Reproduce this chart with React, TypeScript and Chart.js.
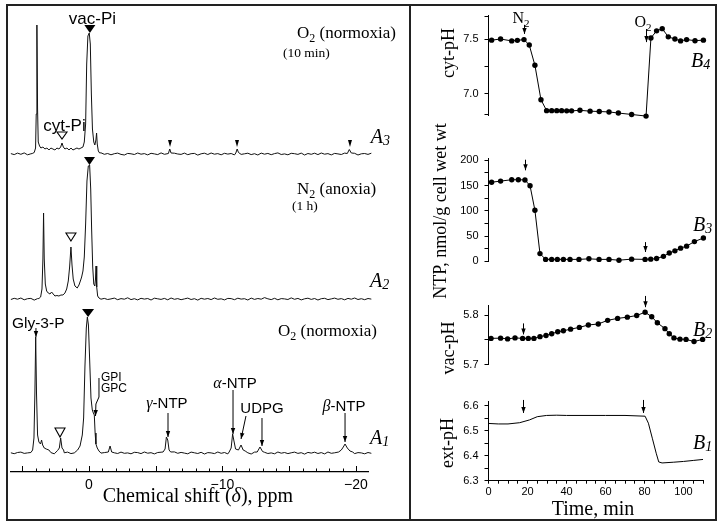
import React, { useEffect, useRef } from "react";
import { Chart, registerables } from "chart.js";
Chart.register(...registerables);

const SANS = '"Liberation Sans", Arial, Helvetica, sans-serif';
const SERIF = '"Liberation Serif", "Times New Roman", Times, serif';

// ---------------- Panel A: 31P NMR spectra ----------------
const NOISE_START = 5.85; // ppm of first baseline sample
const NOISE_STEP = 0.25; // ppm between baseline samples
const NOISE_A3 = [0.4,-0.6,0.9,-0.3,1.1,-0.8,0.2,0.7,-1.0,0.5,
 -0.2,0.8,-0.7,0.3,1.0,-0.5,0.1,-0.9,0.6,0.2,
 -0.4,0.9,-1.1,0.4,0.0,0.7,-0.6,1.2,-0.3,0.5,
 -0.8,0.3,0.9,-0.4,-1.0,0.6,0.2,-0.5,1.0,-0.2,
 0.4,-0.9,0.7,0.1,-0.6,1.1,-0.3,0.5,-1.0,0.8,
 0.0,-0.4,0.9,-0.7,0.3,0.6,-1.1,0.2,0.8,-0.5,
 1.0,-0.2,0.4,-0.8,0.7,-0.1,0.5,-0.9,1.2,-0.4,
 0.2,0.8,-0.6,0.3,-1.0,0.9,-0.2,0.6,-0.7,0.4,
 1.1,-0.5,0.1,-0.8,0.7,0.3,-0.4,0.9,-1.0,0.5,
 -0.3,0.8,-0.6,1.0,-0.2,0.4,-0.9,0.6,0.1,-0.5,
 0.9,-0.7,0.3,0.7,-1.0,0.2,0.5,-0.4,0.8];
const NOISE_A2 = [-0.5,0.7,-0.2,1.0,-0.8,0.3,0.6,-1.1,0.4,-0.1,
 0.9,-0.6,0.2,-0.9,0.8,0.1,-0.4,1.1,-0.7,0.3,
 0.5,-1.0,0.7,-0.3,0.2,-0.8,1.0,-0.2,0.6,-0.5,
 0.1,0.9,-0.7,0.4,-0.2,1.2,-0.6,0.3,-0.9,0.7,
 -0.1,0.5,-1.0,0.8,0.2,-0.4,0.6,-0.8,1.0,-0.3,
 0.4,-0.7,0.1,0.9,-0.5,0.3,-1.1,0.7,-0.2,0.5,
 -0.6,1.0,-0.3,0.2,-0.9,0.6,0.4,-0.7,0.8,-0.1,
 0.3,-1.0,0.9,-0.4,0.5,-0.2,1.4,0.2,-0.6,0.7,
 -0.8,0.4,0.1,-0.5,1.1,-0.3,0.6,-0.9,0.2,0.8,
 -0.4,0.5,-1.0,0.3,0.7,-0.6,0.1,0.9,-0.3,0.4,
 -0.8,0.6,-0.2,1.0,-0.5,0.3,-0.7,0.5,-0.1];
const NOISE_A1 = [0.2,-0.7,0.5,0.9,-0.4,0.1,-1.0,0.6,0.3,-0.5,
 1.0,-0.2,0.4,-0.8,0.7,-0.3,0.2,0.9,-0.6,0.1,
 -0.9,0.5,0.8,-0.4,0.3,-0.7,1.1,-0.1,0.4,-1.0,
 0.6,0.2,-0.5,0.9,-0.3,0.1,-0.8,0.7,0.4,-0.6,
 1.0,-0.2,0.3,-0.9,0.5,0.8,-0.4,0.2,-0.7,1.1,
 -0.3,0.6,-0.1,-0.8,0.9,0.2,-0.5,0.7,-1.0,0.4,
 0.1,-0.6,1.0,-0.3,0.5,-0.9,0.3,0.8,-0.2,-0.7,
 0.6,0.2,-1.0,0.9,-0.4,0.3,0.7,-0.5,0.1,-0.8,
 1.0,-0.2,0.5,-0.6,0.2,0.9,-0.4,0.3,-1.1,0.6,
 -0.1,0.8,-0.5,0.4,-0.9,1.0,-0.3,0.2,0.6,-0.7,
 0.3,-0.2,0.9,-0.6,0.4,0.1,-0.8,0.5,-0.3];

// peak segments: [ppm, intensity]
const PEAKS_A3 = [
 [[4.25,0.5],[4.1,1.5],[4.0,6],[3.95,40],[3.9,129],[3.85,45],[3.8,12],[3.7,8],[3.6,6],[3.45,7],[3.3,5],[3.15,6],[3.0,4],[2.85,6],[2.7,5],[2.55,4],[2.4,6],[2.25,5],[2.12,7],[2.02,11],[1.92,7],[1.8,5],[1.65,6],[1.5,4],[1.35,6],[1.2,4],[1.05,5],[0.9,6],[0.75,5],[0.6,6],[0.45,7],[0.35,12],[0.25,30],[0.17,90],[0.08,118],[-0.02,121],[-0.1,110],[-0.18,60],[-0.26,25],[-0.36,12],[-0.44,9],[-0.52,14],[-0.57,21],[-0.62,10],[-0.7,3],[-0.8,1]],
 [[-5.95,0.5],[-6.05,5],[-6.15,1]],
 [[-11.0,1],[-11.1,5],[-11.2,1.5]],
 [[-19.35,0.5],[-19.5,4.5],[-19.65,1]],
];
const PEAKS_A2 = [
 [[3.75,0.5],[3.62,2],[3.52,10],[3.45,40],[3.4,86],[3.35,40],[3.27,15],[3.17,8],[3.05,6],[2.92,5],[2.8,7],[2.68,5],[2.55,3],[2.4,3.5],[2.25,3],[2.1,4],[1.95,4],[1.8,6],[1.67,10],[1.55,18],[1.45,32],[1.35,52],[1.27,34],[1.18,20],[1.05,13],[0.88,11],[0.75,14],[0.62,19],[0.55,22],[0.45,28],[0.35,42],[0.25,75],[0.15,118],[0.05,133],[-0.05,134],[-0.13,110],[-0.2,70],[-0.28,32],[-0.36,15],[-0.44,13],[-0.49,20],[-0.53,33],[-0.58,12],[-0.65,3],[-0.75,1]],
];
const PEAKS_A1 = [
 [[4.35,0.5],[4.22,3],[4.12,15],[4.05,60],[3.99,116],[3.93,60],[3.85,18],[3.75,11],[3.63,9],[3.55,13],[3.47,8],[3.35,5],[3.2,4],[3.0,3]],
 [[2.35,2.5],[2.22,5],[2.12,15],[2.02,5],[1.9,3]],
 [[0.85,3],[0.67,7],[0.5,18],[0.4,35],[0.3,87],[0.2,125],[0.12,136],[0.04,128],[-0.06,90],[-0.15,55],[-0.25,43],[-0.33,40],[-0.4,38],[-0.46,20],[-0.52,9],[-0.62,5],[-0.75,2]],
 [[-1.45,1],[-1.58,7],[-1.7,1]],
 [[-5.55,1],[-5.7,4],[-5.8,16],[-5.9,13],[-6.0,3],[-6.12,1]],
 [[-10.5,1],[-10.65,5],[-10.76,19],[-10.86,12],[-10.98,4],[-11.2,3],[-11.39,8],[-11.55,3],[-11.7,2]],
 [[-12.6,1],[-12.81,6],[-13.0,1.5]],
 [[-18.7,1],[-18.9,3],[-19.05,6],[-19.18,9],[-19.35,5],[-19.55,2],[-19.75,1]],
];
const TRACE_OFFSET = { A1: 19, A2: 173, A3: 318 };
const A_TICK_LABELS = [-20, -10, 0];
const A_MINOR_TICKS = [5,4,3,2,1,0,-1,-2,-3,-4,-5,-6,-7,-8,-9,-10,-11,-12,-13,-14,-15,-16,-17,-18,-19,-20];

// ---------------- Panel B: time courses ----------------
const B4_TIME = [1.6,6.2,11.9,14.8,18.2,20.9,23.8,26.9,29.8,32.4,35.0,37.5,40.1,42.6,46.9,52.1,56.8,61.8,66.6,73.4,80.8,83.3,86.2,89.1,92.2,95.6,98.5,101.6,105.9,110.2];
const B4_CYT_PH = [7.49,7.50,7.483,7.488,7.495,7.445,7.26,6.945,6.845,6.845,6.845,6.845,6.843,6.843,6.848,6.84,6.837,6.833,6.823,6.81,6.795,7.51,7.575,7.595,7.52,7.50,7.483,7.495,7.485,7.49];
const B3_TIME = [1.6,6.2,11.9,15.3,18.7,21.3,23.8,26.4,29.3,32.4,35.3,38.4,41.8,46.4,51.5,56.7,61.8,66.9,73.4,80.3,83.2,86.2,89.7,92.7,95.6,98.5,101.6,105.6,110.2];
const B3_NTP = [156.5,158.7,161.4,161.4,161,149.5,101,15.2,3.8,3.8,3.8,3.8,3.8,3.8,4.9,3.8,3.8,2.2,4.3,3.8,4.3,5.4,9.8,16.3,20.7,26,30,39,46];
const B2_TIME = [1.3,6.2,9.8,13.6,17.5,20.4,23.3,26.4,29.5,32.4,35.5,38.4,42.1,46.6,51.2,56.3,61.1,66.2,71.2,76.0,80.3,83.7,86.6,90.5,92.7,95.1,98.2,101.3,105.4,109.8];
const B2_VAC_PH = [5.7532,5.7537,5.7522,5.7542,5.7532,5.7532,5.7532,5.7567,5.7591,5.7626,5.7665,5.7685,5.7719,5.7754,5.7803,5.7823,5.7897,5.7936,5.7961,5.7995,5.806,5.797,5.7847,5.7729,5.7626,5.7542,5.7517,5.7512,5.7468,5.7512];
const B1_TIME = [0,5,10,16,21,25,29.8,35,40,50,60,70,80.3,82,84,86,87.3,89,95,100,105,110];
const B1_EXT_PH = [6.529,6.527,6.527,6.532,6.543,6.556,6.561,6.562,6.561,6.561,6.561,6.561,6.558,6.53,6.47,6.41,6.375,6.371,6.374,6.377,6.381,6.385];

const B4_TICKS = [6.81, 7.0, 7.25, 7.5, 7.71];
const B4_LABELS = [7.0, 7.5];
const B3_TICKS = [0, 25, 50, 75, 100, 125, 150, 175, 200];
const B3_LABELS = [0, 50, 100, 150, 200];
const B2_TICKS = [5.7, 5.75, 5.8];
const B2_LABELS = [5.7, 5.8];
const B1_TICKS = [6.3, 6.35, 6.4, 6.45, 6.5, 6.55, 6.6];
const B1_LABELS = [6.3, 6.4, 6.5, 6.6];
const TIME_TICKS = [0,5,10,15,20,25,30,35,40,45,50,55,60,65,70,75,80,85,90,95,100,105,110];
const TIME_LABELS = [0, 20, 40, 60, 80, 100];

// ---------------- drawing helpers ----------------
type Part = { t: string; size: number; fam: string; style?: string; dy?: number };
const fnt = (p: Part) => `${p.style || ""} ${p.size}px ${p.fam}`.trim();
function drawRich(ctx: CanvasRenderingContext2D, x: number, y: number, parts: Part[], align = "left") {
  let w = 0;
  for (const p of parts) { ctx.font = fnt(p); w += ctx.measureText(p.t).width; }
  let cx = align === "center" ? x - w / 2 : align === "right" ? x - w : x;
  const base = y + parts[0].size * 0.35;
  ctx.textAlign = "left";
  ctx.textBaseline = "alphabetic";
  ctx.fillStyle = "#000";
  for (const p of parts) {
    ctx.font = fnt(p);
    ctx.fillText(p.t, cx, base + (p.dy || 0));
    cx += ctx.measureText(p.t).width;
  }
}
function arrow(ctx: CanvasRenderingContext2D, pts: number[][], head = 6, hw = 2.3) {
  ctx.beginPath();
  ctx.moveTo(pts[0][0], pts[0][1]);
  for (let i = 1; i < pts.length; i++) ctx.lineTo(pts[i][0], pts[i][1]);
  ctx.stroke();
  const [x1, y1] = pts[pts.length - 2];
  const [x2, y2] = pts[pts.length - 1];
  const a = Math.atan2(y2 - y1, x2 - x1);
  const bx = x2 - head * Math.cos(a), by = y2 - head * Math.sin(a);
  ctx.beginPath();
  ctx.moveTo(x2, y2);
  ctx.lineTo(bx + hw * Math.sin(a), by - hw * Math.cos(a));
  ctx.lineTo(bx - hw * Math.sin(a), by + hw * Math.cos(a));
  ctx.closePath();
  ctx.fill();
}
function triangle(ctx: CanvasRenderingContext2D, cx: number, top: number, bottom: number, w: number, filled: boolean) {
  ctx.beginPath();
  ctx.moveTo(cx - w / 2, top);
  ctx.lineTo(cx + w / 2, top);
  ctx.lineTo(cx, bottom);
  ctx.closePath();
  if (filled) ctx.fill(); else { ctx.lineWidth = 1.1; ctx.stroke(); }
}
const serif = (t: string, size: number, dy = 0, style = ""): Part => ({ t, size, fam: SERIF, dy, style });
const sans = (t: string, size: number, dy = 0): Part => ({ t, size, fam: SANS, dy });
const panelLabel = (L: string, n: string): Part[] => [serif(L, 20, 0, "italic"), serif(n, 14, 2, "italic")];

// annotations for panel A, in (ppm, intensity) units
const A_TEXTS: { x: number; y: number; align: string; parts: Part[] }[] = [
  { x: -0.26, y: 454, align: "center", parts: [sans("vac-Pi", 17)] },
  { x: 1.84, y: 347, align: "center", parts: [sans("cyt-Pi", 17)] },
  { x: -15.58, y: 440, align: "left", parts: [serif("O", 17), serif("2", 12, 4), serif(" (normoxia)", 17)] },
  { x: -14.53, y: 420, align: "left", parts: [serif("(10 min)", 13.5)] },
  { x: -21.1, y: 336, align: "left", parts: panelLabel("A", "3") },
  { x: -15.58, y: 284, align: "left", parts: [serif("N", 17), serif("2", 12, 4), serif(" (anoxia)", 17)] },
  { x: -15.2, y: 267, align: "left", parts: [serif("(1 h)", 13.5)] },
  { x: -21.05, y: 192, align: "left", parts: panelLabel("A", "2") },
  { x: 5.77, y: 149, align: "left", parts: [sans("Gly-3-P", 15.5)] },
  { x: -0.9, y: 95, align: "left", parts: [sans("GPI", 12)] },
  { x: -0.9, y: 84, align: "left", parts: [sans("GPC", 12)] },
  { x: -14.16, y: 142, align: "left", parts: [serif("O", 17), serif("2", 12, 4), serif(" (normoxia)", 17)] },
  { x: -5.84, y: 70, align: "center", parts: [serif("γ", 16, 0, "italic"), sans("-NTP", 15)] },
  { x: -10.94, y: 90, align: "center", parts: [serif("α", 16, 0, "italic"), sans("-NTP", 15)] },
  { x: -12.96, y: 64, align: "center", parts: [sans("UDPG", 15)] },
  { x: -19.1, y: 67, align: "center", parts: [serif("β", 16, 0, "italic"), sans("-NTP", 15)] },
  { x: -21.05, y: 35, align: "left", parts: panelLabel("A", "1") },
  { x: -8.16, y: -23, align: "center", parts: [serif("Chemical shift (", 20), serif("δ", 20, 0, "italic"), serif("), ppm", 20)] },
];
const A_ARROWS = [
  [[3.97, 144], [3.97, 135]],
  [[-0.75, 94], [-0.75, 75], [-0.52, 68], [-0.49, 56]],
  [[-5.92, 59], [-5.92, 35]],
  [[-10.79, 82], [-10.79, 38]],
  [[-11.76, 56], [-11.39, 33]],
  [[-12.96, 54], [-12.96, 26]],
  [[-19.18, 59], [-19.18, 30]],
];
const A_TRIANGLES = [
  { x: -0.07, top: 447, bottom: 439, w: 11, filled: true },
  { x: 2.02, top: 340, bottom: 333, w: 10, filled: false },
  { x: -6.07, top: 332, bottom: 325, w: 4, filled: true },
  { x: -11.09, top: 332, bottom: 325, w: 4, filled: true },
  { x: -19.55, top: 332, bottom: 325, w: 4, filled: true },
  { x: -0.04, top: 315, bottom: 307, w: 11, filled: true },
  { x: 1.35, top: 239, bottom: 231, w: 10, filled: false },
  { x: 0.07, top: 163, bottom: 155, w: 12, filled: true },
  { x: 2.17, top: 44, bottom: 35, w: 10, filled: false },
];

function buildTrace(noise: number[], peaks: number[][][], offset: number) {
  const pts: { x: number; y: number }[] = [];
  const ranges = peaks.map((s) => [s[s.length - 1][0], s[0][0]]);
  noise.forEach((n, i) => {
    const x = NOISE_START - i * NOISE_STEP;
    if (!ranges.some(([lo, hi]) => x >= lo - 0.05 && x <= hi + 0.05)) pts.push({ x, y: offset + n });
  });
  peaks.forEach((s) => s.forEach(([x, h]) => pts.push({ x, y: offset + h })));
  pts.sort((a, b) => b.x - a.x);
  return pts;
}

const leftAnnot = {
  id: "leftAnnot",
  afterDatasetsDraw(chart: any) {
    const { ctx, scales } = chart;
    const X = (v: number) => scales.x.getPixelForValue(v);
    const Y = (v: number) => scales.y.getPixelForValue(v);
    ctx.save();
    ctx.strokeStyle = "#000";
    ctx.fillStyle = "#000";
    ctx.lineWidth = 1;
    const yb = chart.chartArea.bottom;
    for (const v of A_MINOR_TICKS) {
      const px = Math.round(X(v)) + 0.5;
      const len = v % 5 === 0 ? 6 : 3.5;
      ctx.beginPath(); ctx.moveTo(px, yb); ctx.lineTo(px, yb - len); ctx.stroke();
    }
    for (const t of A_TRIANGLES) { ctx.lineWidth = 1; triangle(ctx, X(t.x), Y(t.top), Y(t.bottom), t.w, t.filled); }
    ctx.lineWidth = 1;
    for (const a of A_ARROWS) arrow(ctx, a.map(([x, y]) => [X(x), Y(y)]), 6, 2.2);
    for (const t of A_TEXTS) drawRich(ctx, X(t.x), Y(t.y), t.parts, t.align);
    ctx.restore();
  },
};

type BSpec = {
  time: number[]; vals: number[]; points: boolean; top: number; bottom: number; min: number; max: number;
  ticks: number[]; labels: number[]; fmt: (v: number) => string; xAxis: boolean;
  title: string; titleX: number; titleY: number;
  arrows: number[][][]; texts: { x: number; y: number; align: string; parts: Part[] }[];
};

function makeB(canvas: HTMLCanvasElement, s: BSpec) {
  const annot = {
    id: "bAnnot",
    afterDatasetsDraw(chart: any) {
      const { ctx, scales } = chart;
      const X = (v: number) => scales.x.getPixelForValue(v);
      const Y = (v: number) => scales.y.getPixelForValue(v);
      ctx.save();
      ctx.strokeStyle = "#000"; ctx.fillStyle = "#000"; ctx.lineWidth = 1;
      for (const a of s.arrows) arrow(ctx, a.map(([x, y]) => [Math.round(X(x)) + 0.5, Y(y)]), 6, 2.2);
      for (const t of s.texts) drawRich(ctx, X(t.x), Y(t.y), t.parts, t.align);
      ctx.translate(s.titleX, s.titleY);
      ctx.rotate(-Math.PI / 2);
      drawRich(ctx, 0, 0, [serif(s.title, 18)], "center");
      ctx.restore();
    },
  };
  return new Chart(canvas, {
    type: "line",
    data: {
      datasets: [{
        data: s.time.map((t, i) => ({ x: t, y: s.vals[i] })),
        borderColor: "#000", borderWidth: 1, tension: 0, fill: false, clip: false as any,
        pointRadius: s.points ? 2.7 : 0, pointBackgroundColor: "#000", pointBorderWidth: 0,
      }],
    },
    options: {
      animation: false, responsive: false, devicePixelRatio: 1, events: [],
      layout: { padding: { left: 448.5, right: 19, top: s.top, bottom: s.bottom } },
      plugins: { legend: { display: false }, tooltip: { enabled: false } },
      scales: {
        x: {
          type: "linear", min: 0, max: 110, display: s.xAxis,
          afterFit: (sc: any) => { sc.height = 22; },
          afterBuildTicks: (sc: any) => { sc.ticks = TIME_TICKS.map((v) => ({ value: v })); },
          grid: { display: true, drawOnChartArea: false, drawTicks: true, tickLength: 3, color: "#000" },
          border: { display: true, color: "#000", width: 1 },
          ticks: {
            autoSkip: false, maxRotation: 0, padding: 2, color: "#000", font: { family: SANS, size: 11 },
            callback: (v: any) => (TIME_LABELS.includes(v) ? String(v) : ""),
          },
        },
        y: {
          type: "linear", min: s.min, max: s.max,
          afterFit: (sc: any) => { sc.width = 40; },
          afterBuildTicks: (sc: any) => { sc.ticks = s.ticks.map((v) => ({ value: v })); },
          grid: { display: true, drawOnChartArea: false, drawTicks: true, tickLength: 4, color: "#000" },
          border: { display: true, color: "#000", width: 1 },
          ticks: {
            autoSkip: false, padding: 6, color: "#000", font: { family: SANS, size: 11 },
            callback: (v: any) => (s.labels.includes(v) ? s.fmt(v) : ""),
          },
        },
      },
    },
    plugins: [annot],
  } as any);
}

const arrowDown = (t: number, y1: number, y2: number) => [[t, y1], [t, y2]];

export default function App() {
  const refA = useRef<HTMLCanvasElement>(null);
  const ref4 = useRef<HTMLCanvasElement>(null);
  const ref3 = useRef<HTMLCanvasElement>(null);
  const ref2 = useRef<HTMLCanvasElement>(null);
  const ref1 = useRef<HTMLCanvasElement>(null);

  useEffect(() => {
    const charts: Chart[] = [];
    const traces = [
      buildTrace(NOISE_A1, PEAKS_A1, TRACE_OFFSET.A1),
      buildTrace(NOISE_A2, PEAKS_A2, TRACE_OFFSET.A2),
      buildTrace(NOISE_A3, PEAKS_A3, TRACE_OFFSET.A3),
    ];
    charts.push(new Chart(refA.current!, {
      type: "scatter",
      data: {
        datasets: traces.map((d) => ({
          data: d, showLine: true, borderColor: "#111", borderWidth: 1, pointRadius: 0, tension: 0, clip: false as any,
        })),
      },
      options: {
        animation: false, responsive: false, devicePixelRatio: 1, events: [],
        layout: { padding: { left: 11, right: 354, top: 5, bottom: 16 } },
        plugins: { legend: { display: false }, tooltip: { enabled: false } },
        scales: {
          x: {
            type: "linear", min: -20.9, max: 5.84, reverse: true,
            afterFit: (sc: any) => { sc.height = 40; },
            afterBuildTicks: (sc: any) => { sc.ticks = A_TICK_LABELS.map((v) => ({ value: v })); },
            grid: { display: false, drawTicks: false },
            border: { display: true, color: "#000", width: 1.2 },
            ticks: {
              autoSkip: false, maxRotation: 0, padding: 5, color: "#000", font: { family: SANS, size: 14 },
              callback: (v: any) => (v === 0 ? "0" : "\u2212" + Math.abs(v)),
            },
          },
          y: { type: "linear", min: 0, max: 467, display: false },
        },
      },
      plugins: [leftAnnot],
    } as any));

    charts.push(makeB(ref4.current!, {
      time: B4_TIME, vals: B4_CYT_PH, points: true, top: 15, bottom: 391, min: 6.805, max: 7.72,
      ticks: B4_TICKS, labels: B4_LABELS, fmt: (v) => v.toFixed(1), xAxis: false,
      title: "cyt-pH", titleX: 448, titleY: 53,
      arrows: [arrowDown(18.2, 7.63, 7.547), arrowDown(80.8, 7.592, 7.472)],
      texts: [
        { x: 16.7, y: 7.697, align: "center", parts: [serif("N", 16), serif("2", 11, 4)] },
        { x: 79.2, y: 7.66, align: "center", parts: [serif("O", 16), serif("2", 11, 4)] },
        { x: 103.8, y: 7.307, align: "left", parts: panelLabel("B", "4") },
      ],
    }));
    charts.push(makeB(ref3.current!, {
      time: B3_TIME, vals: B3_NTP, points: true, top: 158, bottom: 244.7, min: 0, max: 204.4,
      ticks: B3_TICKS, labels: B3_LABELS, fmt: (v) => String(v), xAxis: false,
      title: "NTP, nmol/g cell wet wt", titleX: 440, titleY: 211,
      arrows: [arrowDown(18.7, 201, 180), arrowDown(80.3, 38, 18.4)],
      texts: [{ x: 104.9, y: 73.9, align: "left", parts: panelLabel("B", "3") }],
    }));
    charts.push(makeB(ref2.current!, {
      time: B2_TIME, vals: B2_VAC_PH, points: true, top: 305, bottom: 141.3, min: 5.7, max: 5.8207,
      ticks: B2_TICKS, labels: B2_LABELS, fmt: (v) => v.toFixed(1), xAxis: false,
      title: "vac-pH", titleX: 448, titleY: 348,
      arrows: [arrowDown(17.7, 5.7835, 5.7613), arrowDown(80.3, 5.839, 5.8163)],
      texts: [{ x: 104.9, y: 5.772, align: "left", parts: panelLabel("B", "2") }],
    }));
    charts.push(makeB(ref1.current!, {
      time: B1_TIME, vals: B1_EXT_PH, points: false, top: 401.7, bottom: 25.3, min: 6.3, max: 6.616,
      ticks: B1_TICKS, labels: B1_LABELS, fmt: (v) => v.toFixed(1), xAxis: true,
      title: "ext-pH", titleX: 447, titleY: 443,
      arrows: [arrowDown(17.5, 6.623, 6.571), arrowDown(79, 6.623, 6.571)],
      texts: [
        { x: 104.9, y: 6.455, align: "left", parts: panelLabel("B", "1") },
        { x: 53.6, y: 6.191, align: "center", parts: [serif("Time, min", 20)] },
      ],
    }));
    return () => charts.forEach((c) => c.destroy());
  }, []);

  const cv: React.CSSProperties = { position: "absolute", left: 0, top: 0 };
  return (
    <div style={{ position: "absolute", left: 0, top: 0, width: 722, height: 528, background: "#fff", overflow: "hidden" }}>
      <div style={{ position: "absolute", left: 6, top: 4, width: 711, height: 517, border: "2px solid #222", boxSizing: "border-box" }} />
      <div style={{ position: "absolute", left: 409, top: 4, width: 2, height: 517, background: "#222" }} />
      <canvas ref={refA} width={722} height={528} style={cv} />
      <canvas ref={ref4} width={722} height={528} style={cv} />
      <canvas ref={ref3} width={722} height={528} style={cv} />
      <canvas ref={ref2} width={722} height={528} style={cv} />
      <canvas ref={ref1} width={722} height={528} style={cv} />
    </div>
  );
}
